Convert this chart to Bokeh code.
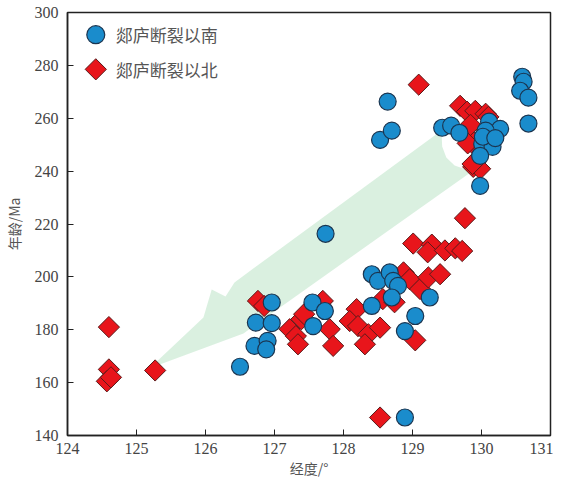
from bokeh.plotting import figure
from bokeh.models import Range1d, Label
from bokeh.embed import file_html
from bokeh.resources import INLINE
import numpy as np

# 郯庐断裂以南 (south of the Tan-Lu fault)
south_lon = [128.64, 128.53, 128.70, 129.43, 129.56, 129.68, 130.59, 130.61, 130.56, 130.68,
             130.68, 130.11, 130.27, 130.06, 130.01, 130.16, 129.98, 129.98, 130.02, 130.20,
             127.74, 126.96, 126.73, 126.96, 126.71, 126.90, 126.88, 126.50, 127.55, 127.73,
             127.56, 128.41, 128.50, 128.67, 128.72, 128.79, 128.70, 128.41, 129.25, 129.04,
             128.89, 128.89]
south_age = [266.3, 251.8, 255.3, 256.4, 257.2, 254.5, 275.7, 273.8, 270.4, 267.8,
             258.0, 258.7, 256.0, 255.3, 250.3, 249.2, 245.8, 234.4, 253.0, 252.5,
             216.3, 190.3, 182.7, 182.5, 173.9, 175.8, 172.6, 166.0, 190.3, 187.1,
             181.4, 201.0, 198.5, 201.7, 198.5, 196.6, 192.2, 189.0, 192.2, 185.2,
             179.5, 146.8]

# 郯庐断裂以北 (north of the Tan-Lu fault)
north_lon = [129.09, 129.69, 129.79, 129.91, 130.06, 130.10, 129.84, 129.91, 129.88, 129.98,
             129.87, 129.84, 129.95, 129.80, 129.76, 129.01, 129.28, 129.22, 129.47, 129.62,
             129.72, 128.87, 128.96, 129.11, 129.23, 129.40, 128.57, 128.74, 128.19, 128.09,
             128.21, 128.36, 128.31, 128.53, 129.04, 128.53, 127.80, 127.85, 127.70, 127.22,
             127.31, 127.34, 127.39, 127.43, 126.76, 126.85, 125.27, 124.60, 124.60, 124.57,
             124.63]
north_age = [272.7, 264.7, 262.5, 262.8, 261.7, 260.5, 252.2, 243.5, 241.6, 240.9,
             242.7, 257.5, 248.4, 250.5, 222.2, 212.6, 212.2, 209.3, 210.0, 210.8,
             209.8, 201.7, 199.1, 195.4, 199.8, 201.0, 191.6, 190.4, 187.8, 183.3,
             181.4, 178.3, 174.5, 180.8, 176.0, 146.8, 180.2, 173.9, 190.9, 180.2,
             177.6, 174.5, 184.0, 185.9, 190.9, 189.0, 164.6, 181.0, 165.0, 160.5,
             162.0]

# trend arrow outline (lon, age)
arrow_lon = [129.42, 129.43, 129.49, 129.61, 129.86, 126.55, 125.19, 125.97, 126.09, 126.29, 126.42]
arrow_age = [255.4, 249.3, 245.2, 242.1, 239.9, 178.6, 165.4, 184.6, 195.2, 192.6, 197.9]

x_ticks = [124, 125, 126, 127, 128, 129, 130, 131]
y_ticks = [140, 160, 180, 200, 220, 240, 260, 280, 300]

legend_labels = ["郯庐断裂以南", "郯庐断裂以北"]
legend_lon = [124.41, 124.41]
legend_age = [291.6, 278.5]
legend_text_lon = 124.70

p = figure(width=553, height=481, output_backend="svg", toolbar_location=None,
           x_range=Range1d(124, 131), y_range=Range1d(140, 300),
           min_border_left=66, min_border_top=12, min_border_right=3, min_border_bottom=46)
p.grid.visible = False
p.outline_line_color = "#222222"
p.outline_line_width = 1.5
p.background_fill_color = "white"
p.border_fill_color = "white"

p.patch(arrow_lon, arrow_age, fill_color="#d4edda", fill_alpha=0.85, line_color=None)

p.scatter(north_lon, north_age, marker="square", size=15, angle=np.pi / 4,
          fill_color="#e8151b", line_color="#5a1a1a", line_width=1)
p.scatter(south_lon, south_age, marker="circle", size=17,
          fill_color="#1a8ccc", line_color="#1b3550", line_width=1.2)

# legend (drawn by hand so the diamond keeps its rotation)
p.scatter([legend_lon[0]], [legend_age[0]], marker="circle", size=18,
          fill_color="#1a8ccc", line_color="#1b3550", line_width=1.2)
p.scatter([legend_lon[1]], [legend_age[1]], marker="square", size=15, angle=np.pi / 4,
          fill_color="#e8151b", line_color="#5a1a1a", line_width=1)
for lab, la in zip(legend_labels, legend_age):
    p.add_layout(Label(x=legend_text_lon, y=la, text=lab, text_baseline="middle",
                       text_font="Noto Sans CJK SC", text_font_size="17px",
                       text_color="#555555"))

for ax in (p.xaxis[0], p.yaxis[0]):
    ax.axis_line_color = "#222222"
    ax.axis_line_width = 1.5
    ax.major_tick_in = 6
    ax.major_tick_out = 0
    ax.minor_tick_in = 5
    ax.minor_tick_out = 0
    ax.major_tick_line_color = "#222222"
    ax.minor_tick_line_color = "#222222"
    ax.major_label_text_font = "Liberation Serif"
    ax.major_label_text_font_size = "16px"
    ax.major_label_text_color = "#444444"
    ax.axis_label_text_font = "Noto Sans CJK SC"
    ax.axis_label_text_font_style = "normal"
    ax.axis_label_text_font_size = "14px"
    ax.axis_label_text_color = "#555555"

p.xaxis.ticker = x_ticks
p.yaxis.ticker = y_ticks
p.xaxis[0].ticker.num_minor_ticks = 2
p.yaxis[0].ticker.num_minor_ticks = 2
p.xaxis.axis_label = "经度/°"
p.yaxis.axis_label = "年龄/Ma"
p.xaxis.major_label_standoff = 7
p.xaxis.axis_label_standoff = 1
p.yaxis.major_label_standoff = 9
p.yaxis.axis_label_standoff = 8

open("out.html", "w").write(file_html(p, INLINE))
